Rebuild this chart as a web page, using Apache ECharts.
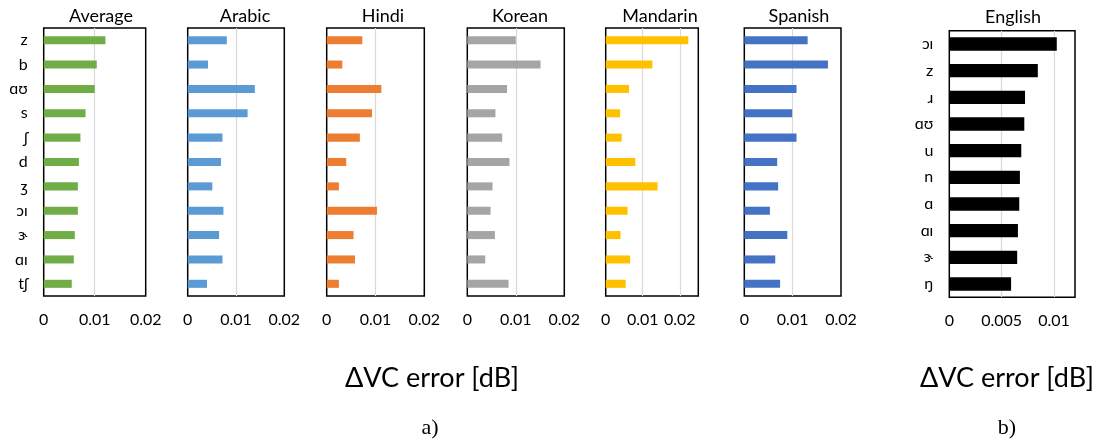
<!DOCTYPE html>
<html>
<head>
<meta charset="utf-8">
<script src="https://cdn.jsdelivr.net/npm/echarts@6/dist/echarts.min.js"></script>
<style>
html,body{margin:0;padding:0;background:#fff;}
#chart{width:1106px;height:447px;}
</style>
</head>
<body>
<div id="chart"></div>
<script>
// ---- Data ----
const phonemesA = ['z', 'b', 'ɑʊ', 's', 'ʃ', 'd', 'ʒ', 'ɔɪ', 'ɝ', 'ɑɪ', 'tʃ'];
const panelNames = ['Average', 'Arabic', 'Hindi', 'Korean', 'Mandarin', 'Spanish'];
const average  = [0.0121, 0.0104, 0.0100, 0.0082, 0.0072, 0.0069, 0.0067, 0.0067, 0.0061, 0.0059, 0.0055];
const arabic   = [0.0081, 0.0042, 0.0139, 0.0124, 0.0072, 0.0069, 0.0051, 0.0074, 0.0065, 0.0072, 0.0040];
const hindi    = [0.0073, 0.0032, 0.0112, 0.0093, 0.0068, 0.0040, 0.0025, 0.0103, 0.0055, 0.0058, 0.0025];
const korean   = [0.0100, 0.0151, 0.0082, 0.0058, 0.0072, 0.0087, 0.0052, 0.0048, 0.0057, 0.0037, 0.0085];
const mandarin = [0.0223, 0.0126, 0.0063, 0.0039, 0.0043, 0.0080, 0.0140, 0.0059, 0.0040, 0.0066, 0.0054];
const spanish  = [0.0131, 0.0173, 0.0108, 0.0099, 0.0108, 0.0068, 0.0070, 0.0053, 0.0089, 0.0064, 0.0074];
const phonemesEn = ['ɔɪ', 'z', 'ɹ', 'ɑʊ', 'u', 'n', 'ɑ', 'ɑɪ', 'ɝ', 'ŋ'];
const english  = [0.01026, 0.00845, 0.00723, 0.00716, 0.00687, 0.00674, 0.00668, 0.00655, 0.00648, 0.00590];
const axisMaxA = [0.02, 0.02, 0.02, 0.02, 0.025, 0.02];
const axisIntervalA = 0.01;
const axisMaxEn = 0.012;
const axisIntervalEn = 0.005;
const axisTitle = 'ΔVC error [dB]';
const subLabels = ['a)', 'b)'];

// ---- Layout / style ----
const seriesA = [average, arabic, hindi, korean, mandarin, spanish];
const colorsA = ['#70AD47', '#5B9BD5', '#ED7D31', '#A5A5A5', '#FFC000', '#4472C4'];
const boxesA = [[43.7, 145.7], [187.7, 284.3], [326.7, 424.3], [467.3, 564.3], [605.7, 698.3], [744.3, 841]];
const titleCentersA = [96, 240, 378, 515, 655, 794];
const boxEn = [949.3, 1075];
const FONT = 'Lato, "Noto Sans", "DejaVu Sans", sans-serif';

const grids = [], xAxes = [], yAxes = [], series = [], titles = [];

function addPanel(i, left, right, top, bottom, cats, data, color, max, interval, showY, gap) {
  grids.push({
    left: left, top: top, width: right - left, height: bottom - top,
    show: true, borderColor: '#000', borderWidth: 1.5, backgroundColor: 'transparent'
  });
  xAxes.push({
    type: 'value', gridIndex: i, min: 0, max: max, interval: interval,
    axisLine: {show: false}, axisTick: {show: false},
    axisLabel: {
      show: true, color: '#000', fontSize: 16, fontFamily: FONT, margin: 16,
      showMaxLabel: Math.abs(max / interval - Math.round(max / interval)) < 1e-9,
      formatter: function (v) { return String(+v.toFixed(4)); }
    },
    splitLine: {show: true, showMinLine: false, showMaxLine: false, lineStyle: {color: '#D9D9D9', width: 1.2}}
  });
  yAxes.push({
    type: 'category', gridIndex: i, data: cats, inverse: true,
    axisLine: {show: false}, axisTick: {show: false},
    axisLabel: {show: showY, color: '#000', fontSize: 16, fontFamily: FONT, margin: 16},
    splitLine: {show: false}
  });
  series.push({
    type: 'bar', xAxisIndex: i, yAxisIndex: i, data: data,
    itemStyle: {color: color}, barCategoryGap: gap, silent: true, animation: false
  });
}

for (let i = 0; i < 6; i++) {
  addPanel(i, boxesA[i][0], boxesA[i][1], 28, 296, phonemesA, seriesA[i], colorsA[i],
           axisMaxA[i], axisIntervalA, i === 0, '67%');
  titles.push({text: panelNames[i], left: titleCentersA[i], top: 2, textAlign: 'center',
    textStyle: {fontSize: 18, fontWeight: 'normal', color: '#000', fontFamily: FONT}});
}
addPanel(6, boxEn[0], boxEn[1], 30.7, 297.3, phonemesEn, english, '#000000',
         axisMaxEn, axisIntervalEn, true, '50%');
titles.push({text: 'English', left: 1008, top: 3, textAlign: 'center',
  textStyle: {fontSize: 18, fontWeight: 'normal', color: '#000', fontFamily: FONT}});

const chart = echarts.init(document.getElementById('chart'), null, {renderer: 'canvas'});
chart.setOption({
  animation: false,
  backgroundColor: '#fff',
  title: titles,
  grid: grids,
  xAxis: xAxes,
  yAxis: yAxes,
  series: series,
  graphic: [
    {type: 'text', x: 432, y: 378, style: {text: axisTitle, font: '27px ' + FONT, fill: '#000', textAlign: 'center', textVerticalAlign: 'middle'}},
    {type: 'text', x: 1007, y: 378, style: {text: axisTitle, font: '27px ' + FONT, fill: '#000', textAlign: 'center', textVerticalAlign: 'middle'}},
    {type: 'text', x: 430, y: 428, style: {text: subLabels[0], font: '22px "Liberation Serif", "DejaVu Serif", serif', fill: '#000', textAlign: 'center', textVerticalAlign: 'middle'}},
    {type: 'text', x: 1007, y: 428, style: {text: subLabels[1], font: '22px "Liberation Serif", "DejaVu Serif", serif', fill: '#000', textAlign: 'center', textVerticalAlign: 'middle'}}
  ]
});
</script>
</body>
</html>
